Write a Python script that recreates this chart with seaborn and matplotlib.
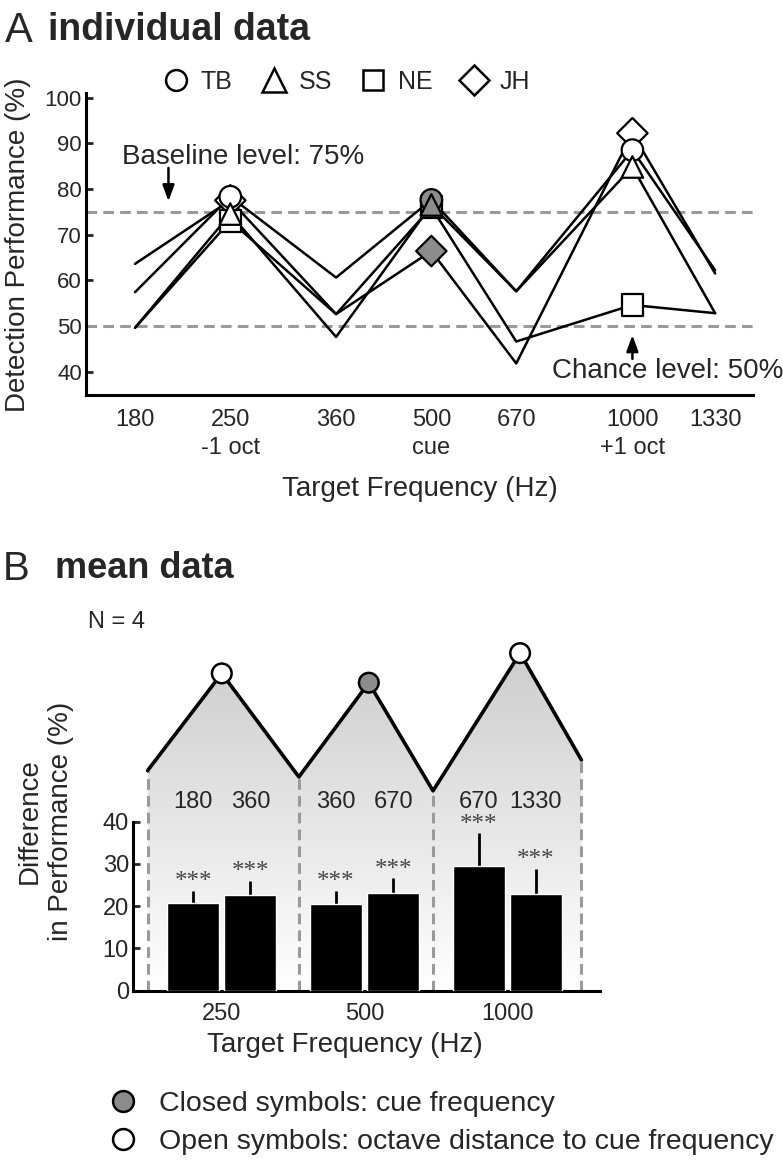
import numpy as np
import pandas as pd
import matplotlib
matplotlib.use('Agg')
from matplotlib import pyplot as plt
from matplotlib.lines import Line2D
from matplotlib.patches import Polygon
from matplotlib.colors import LinearSegmentedColormap
from matplotlib.ticker import NullLocator
import seaborn as sns

# ---- A: individual data
freqs = [180, 250, 360, 500, 670, 1000, 1330]
freq_labels = ['180', '250\n-1 oct', '360', '500\ncue', '670', '1000\n+1 oct', '1330']
subjects = ['TB', 'SS', 'NE', 'JH']
perf_TB = [57.4, 78.3, 60.6, 77.6, 57.6, 88.5, 62.2]
perf_SS = [49.6, 74.5, 47.6, 76.5, 57.6, 84.8, 52.8]
perf_NE = [49.6, 73.0, 52.6, 76.0, 46.6, 54.6, 52.8]
perf_JH = [63.6, 77.5, 52.6, 66.4, 41.8, 92.2, 61.5]
marked_freqs = [250, 500, 1000]
cue_freq = 500
baseline_level = 75
chance_level = 50

# ---- B: mean data
groups = ['250', '500', '1000']
flank_freqs = ['180', '360', '360', '670', '670', '1330']
sides = ['lower', 'upper', 'lower', 'upper', 'lower', 'upper']
mean_diff = [20.8, 22.6, 20.6, 23.1, 29.5, 22.9]
sem_diff = [2.9, 3.4, 3.0, 3.5, 7.8, 6.0]
# schematic tuning curve above the bars (x in group units)
tuning_x = [-0.52, 0.0, 0.54, 1.03, 1.48, 2.09, 2.52]
tuning_y = [52.1, 75.1, 50.6, 72.9, 47.3, 79.9, 54.6]
peak_kind = ['octave', 'cue', 'octave']

GRAY = '#8c8c8c'
DASH = '#9a9a9a'
NARROW = ['Liberation Sans Narrow', 'Liberation Sans', 'DejaVu Sans']

sns.set_theme(style='ticks')
plt.rcParams['font.family'] = ['Liberation Sans', 'DejaVu Sans']
plt.rcParams['axes.linewidth'] = 2.2
plt.rcParams['axes.edgecolor'] = 'black'

fig = plt.figure(figsize=(7.83, 11.61), dpi=100)

# ================= panel A =================
perf = {'TB': perf_TB, 'SS': perf_SS, 'NE': perf_NE, 'JH': perf_JH}
dfa = pd.DataFrame([(s, f, v) for s in subjects for f, v in zip(freqs, perf[s])],
                   columns=['subject', 'freq', 'perf'])

axa = fig.add_axes([0.1098, 0.6598, 0.852, 0.2601])
axa.axhline(baseline_level, color=DASH, lw=2.2, ls=(0, (3.5, 2)), zorder=1)
axa.axhline(chance_level, color=DASH, lw=2.2, ls=(0, (3.5, 2)), zorder=1)
sns.lineplot(data=dfa, x='freq', y='perf', units='subject', estimator=None,
             color='black', lw=1.8, ax=axa, zorder=3)

dfm = dfa[dfa.freq.isin(marked_freqs)].copy()
dfm['kind'] = np.where(dfm.freq == cue_freq, 'cue', 'octave')
draw_order = {'JH': 0, 'NE': 1, 'TB': 2, 'SS': 3}
dfm = dfm.sort_values('subject', key=lambda s: s.map(draw_order))
sns.scatterplot(data=dfm, x='freq', y='perf', style='subject',
                markers={'TB': 'o', 'SS': '^', 'NE': 's', 'JH': 'D'},
                hue='kind', palette={'cue': GRAY, 'octave': 'white'},
                edgecolor='black', linewidth=1.6, s=240, legend=False,
                ax=axa, zorder=4)

axa.set_xscale('log', base=2)
axa.set_xlim(152, 1516)
axa.set_ylim(34.9, 101)
axa.set_xticks(freqs, freq_labels)
axa.xaxis.set_minor_locator(NullLocator())
axa.set_yticks(range(40, 101, 10))
axa.tick_params(axis='x', length=0, pad=10, labelsize=17)
axa.tick_params(axis='y', direction='in', length=5, width=2, pad=3, labelsize=16)
for t in axa.get_xticklabels():
    t.set_linespacing(1.35)
axa.set_xlabel('')
axa.set_ylabel('')
sns.despine(ax=axa)

arrow = dict(arrowstyle='-|>,head_length=0.6,head_width=0.22', color='black',
             lw=1.8, shrinkA=0, shrinkB=0, mutation_scale=16)
axa.text(172, 87, 'Baseline level: 75%', fontsize=20, va='center', ha='left')
axa.annotate('', xy=(202, 77.3), xytext=(202, 84.6), arrowprops=arrow)
axa.text(758, 40.1, 'Chance level: 50%', fontsize=20, va='center', ha='left')
axa.annotate('', xy=(1000, 48.0), xytext=(1000, 42.8), arrowprops=arrow)

leg_handles = [Line2D([], [], ls='', marker=m, ms=ms, mfc='white', mec='black', mew=1.8)
               for m, ms in zip(['o', '^', 's', 'D'], [15, 17, 15, 15])]
fig.legend(leg_handles, subjects, ncol=4, loc='center left',
           bbox_to_anchor=(163 / 783, 1 - 82 / 1161), frameon=False,
           prop={'family': NARROW, 'size': 18}, handlelength=1.0,
           handletextpad=0.5, columnspacing=1.15, borderpad=0, borderaxespad=0)

fig.text(5 / 783, 1 - 42 / 1161, 'A', fontsize=30, va='baseline', family=NARROW)
fig.text(48 / 783, 1 - 40 / 1161, 'individual data', fontsize=27,
         weight='bold', va='baseline')
fig.text(18 / 783, 1 - 245 / 1161, 'Detection Performance (%)', fontsize=20,
         rotation=90, ha='center', va='center')
fig.text(420 / 783, 1 - 489 / 1161, 'Target Frequency (Hz)', fontsize=20,
         ha='center', va='center')

# ================= panel B =================
dfb = pd.DataFrame({'group': np.repeat(groups, 2), 'side': sides,
                    'diff': mean_diff, 'sem': sem_diff, 'flank': flank_freqs})

axb = fig.add_axes([0.1699, 0.1467, 0.5964, 0.3275])
axb.patch.set_visible(False)

# grey gradient under the tuning curve
fade = LinearSegmentedColormap.from_list('fade', ['white', '#cdcdcd'])
grad = np.linspace(0, 1, 256).reshape(-1, 1)
img = axb.imshow(grad, extent=[tuning_x[0], tuning_x[-1], 0, max(tuning_y)],
                 origin='lower', aspect='auto', cmap=fade, zorder=0)
shape = Polygon(list(zip(tuning_x, tuning_y)) + [(tuning_x[-1], 0), (tuning_x[0], 0)],
                closed=True, facecolor='none', edgecolor='none', transform=axb.transData)
axb.add_patch(shape)
img.set_clip_path(shape)

axb.vlines(tuning_x[0::2], 0, tuning_y[0::2], colors=DASH, lw=2.2,
           linestyles=[(0, (3.5, 2))], zorder=1)

sns.barplot(data=dfb, x='group', y='diff', hue='side',
            palette=['black', 'black'], saturation=1, width=0.8, gap=0.09,
            errorbar=None, legend=False, ax=axb, zorder=3)

bars = sorted([b for c in axb.containers for b in c], key=lambda b: b.get_x())
bar_x = np.array([b.get_x() + b.get_width() / 2 for b in bars])
bar_h = np.array([b.get_height() for b in bars])
axb.errorbar(bar_x, bar_h, yerr=[np.zeros(len(bar_h)), dfb['sem']], fmt='none',
             ecolor='black', elinewidth=2.0, capsize=0, zorder=2)
for x, h, e, lab in zip(bar_x, bar_h, dfb['sem'], dfb['flank']):
    axb.text(x, h + e + 0.6, '***', ha='center', va='baseline', fontsize=18,
             family=['Liberation Serif', 'DejaVu Serif'], color='#444444')
    axb.text(x, 44.7, lab, ha='center', va='center', fontsize=17)

sns.lineplot(x=tuning_x, y=tuning_y, sort=False, color='black', lw=2.6,
             ax=axb, zorder=5)
sns.scatterplot(x=tuning_x[1::2], y=tuning_y[1::2], hue=peak_kind,
                palette={'cue': GRAY, 'octave': 'white'}, s=200,
                edgecolor='black', linewidth=1.8, legend=False, ax=axb,
                zorder=6, clip_on=False)

axb.set_xlim(-0.622, 2.65)
axb.set_ylim(0, 90)
axb.set_yticks(range(0, 41, 10))
axb.spines['left'].set_bounds(0, 40)
axb.tick_params(axis='x', length=0, pad=9, labelsize=17)
axb.tick_params(axis='y', direction='in', length=5, width=2, pad=3, labelsize=17)
axb.set_xlabel('')
axb.set_ylabel('')
sns.despine(ax=axb)

fig.text(3 / 783, 1 - 580 / 1161, 'B', fontsize=29, va='baseline')
fig.text(55 / 783, 1 - 578 / 1161, 'mean data', fontsize=26, weight='bold',
         va='baseline')
fig.text(88 / 783, 1 - 628 / 1161, 'N = 4', fontsize=17, va='baseline')
fig.text(45 / 783, 1 - 821 / 1161, 'Difference\nin Performance (%)', fontsize=20,
         rotation=90, ha='center', va='center', linespacing=1.25)
fig.text(345 / 783, 1 - 1045 / 1161, 'Target Frequency (Hz)', fontsize=20,
         ha='center', va='center')

key_handles = [Line2D([], [], ls='', marker='o', ms=15, mfc=c, mec='black', mew=1.8)
               for c in [GRAY, 'white']]
fig.legend(key_handles, ['Closed symbols: cue frequency',
                         'Open symbols: octave distance to cue frequency'],
           loc='center left', bbox_to_anchor=(109 / 783, 1 - 1123 / 1161),
           frameon=False, fontsize=20.5, handlelength=1.0, handletextpad=0.75,
           labelspacing=0.4, borderpad=0, borderaxespad=0)

fig.savefig('out.png', dpi=100)
